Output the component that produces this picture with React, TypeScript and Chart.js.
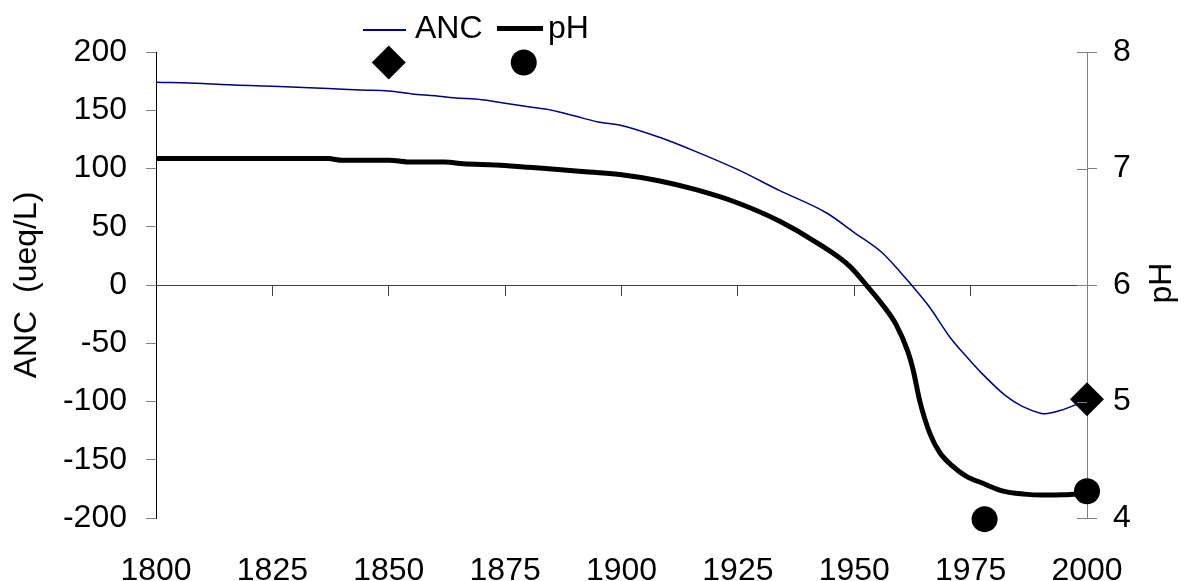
import React, { useEffect, useRef } from 'react';
import { Chart, registerables } from 'chart.js';

Chart.register(...registerables);

const ancYears = [1800, 1810, 1814, 1829, 1837, 1844, 1850, 1855, 1860, 1864, 1870, 1875, 1880, 1885, 1890, 1895, 1900, 1908, 1916, 1925, 1934, 1944, 1950, 1956, 1960, 1962.3, 1966, 1970.6, 1974, 1977.2, 1982.5, 1986, 1990, 1991, 1994, 1998, 2000];
const ancValues = [174, 173, 172, 170, 168.7, 167.3, 166.5, 164, 162.4, 160.7, 159, 156, 153, 150, 145, 140, 137, 127, 114.5, 99, 81, 62, 45, 27.7, 10.6, 0, -18, -45, -61, -75, -95, -104, -110, -110.5, -108, -102, -98];

const phYears = [1800, 1837, 1840, 1850, 1855, 1862, 1866, 1873, 1880, 1887, 1893, 1900, 1908, 1916, 1925, 1934, 1942, 1949, 1953, 1955.7, 1959, 1961.5, 1962.6, 1964.1, 1966.3, 1968.4, 1971, 1974, 1977.5, 1982, 1986.5, 1990.5, 1995, 2000];
const phValues = [7.085, 7.085, 7.07, 7.07, 7.055, 7.055, 7.04, 7.03, 7.01, 6.99, 6.97, 6.946, 6.895, 6.818, 6.704, 6.547, 6.362, 6.162, 5.98, 5.85, 5.66, 5.43, 5.28, 5.0, 4.72, 4.56, 4.45, 4.36, 4.3, 4.23, 4.205, 4.197, 4.2, 4.21];

const ancObsYears = [1850, 2000];
const ancObsValues = [191, -98];
const phObsYears = [1879, 1978, 2000];
const phObsValues = [7.91, 3.99, 4.23];

const xTicks = [1800, 1825, 1850, 1875, 1900, 1925, 1950, 1975, 2000];
const ancTicks = [-200, -150, -100, -50, 0, 50, 100, 150, 200];
const phTicks = [4, 5, 6, 7, 8];

const FONT = '"Liberation Sans", Arial, sans-serif';
const TICK_SIZE = 32;

const toPoints = (xs: number[], ys: number[]) => xs.map((x, i) => ({ x, y: ys[i] }));

const extras = {
  id: 'extras',
  afterDraw(chart: any) {
    const { ctx, chartArea } = chart;
    const y2 = chart.scales.y2;
    ctx.save();
    ctx.strokeStyle = '#808080';
    ctx.lineWidth = 1;
    phTicks.forEach((v) => {
      const py = Math.round(y2.getPixelForValue(v)) + 0.5;
      ctx.beginPath();
      ctx.moveTo(chartArea.right - 10, py);
      ctx.lineTo(chartArea.right, py);
      ctx.stroke();
    });
    ctx.fillStyle = '#000';
    ctx.font = `32px ${FONT}`;
    ctx.textAlign = 'center';
    ctx.textBaseline = 'middle';
    ctx.translate(1162, 283);
    ctx.rotate(-Math.PI / 2);
    ctx.fillText('pH', 0, 0);
    ctx.restore();
  },
};

export default function App() {
  const ref = useRef<HTMLCanvasElement | null>(null);

  useEffect(() => {
    if (!ref.current) return;
    const chart = new Chart(ref.current, {
      type: 'line',
      data: {
        datasets: [
          {
            label: 'ANC observed',
            data: toPoints(ancObsYears, ancObsValues),
            yAxisID: 'y',
            showLine: false,
            pointStyle: 'rectRot',
            pointRadius: 17,
            pointBackgroundColor: '#000',
            pointBorderColor: '#000',
            pointBorderWidth: 0,
            clip: false,
          } as any,
          {
            label: 'pH observed',
            data: toPoints(phObsYears, phObsValues),
            yAxisID: 'y2',
            showLine: false,
            pointStyle: 'circle',
            pointRadius: 13,
            pointBackgroundColor: '#000',
            pointBorderColor: '#000',
            pointBorderWidth: 0,
            clip: false,
          } as any,
          {
            label: 'ANC',
            data: toPoints(ancYears, ancValues),
            yAxisID: 'y',
            borderColor: '#000080',
            borderWidth: 1.5,
            pointRadius: 0,
            cubicInterpolationMode: 'monotone',
            fill: false,
          },
          {
            label: 'pH',
            data: toPoints(phYears, phValues),
            yAxisID: 'y2',
            borderColor: '#000',
            borderWidth: 5,
            pointRadius: 0,
            cubicInterpolationMode: 'monotone',
            fill: false,
          },
        ],
      },
      options: {
        animation: false,
        responsive: false,
        devicePixelRatio: 1,
        layout: { padding: { top: 52, left: 0, right: 0, bottom: 0 } },
        plugins: { legend: { display: false }, tooltip: { enabled: false } },
        scales: {
          x: {
            type: 'linear',
            position: 'bottom',
            min: 1800,
            max: 2000,
            afterBuildTicks: (s: any) => { s.ticks = xTicks.map((v) => ({ value: v })); },
            afterFit: (s: any) => { s.height = 63; },
            grid: { display: false },
            border: { display: false },
            ticks: {
              color: '#000',
              font: { family: FONT, size: TICK_SIZE },
              padding: 26,
              maxRotation: 0,
              autoSkip: false,
              callback: (v: any) => String(v),
            },
          },
          xz: {
            type: 'linear',
            position: { y: 0 } as any,
            min: 1800,
            max: 2000,
            afterBuildTicks: (s: any) => { s.ticks = xTicks.map((v) => ({ value: v })); },
            grid: { drawOnChartArea: false, drawTicks: true, tickLength: 10, tickColor: '#404040' },
            border: { display: true, color: '#404040', width: 1 },
            ticks: { display: false },
          },
          y: {
            type: 'linear',
            position: 'left',
            min: -200,
            max: 200,
            afterBuildTicks: (s: any) => { s.ticks = ancTicks.map((v) => ({ value: v })); },
            afterFit: (s: any) => { s.width = 156; },
            grid: { drawOnChartArea: false, tickLength: 10, tickColor: '#808080' },
            border: { color: '#000', width: 1 },
            ticks: {
              color: '#000',
              font: { family: FONT, size: TICK_SIZE },
              padding: 19,
              callback: (v: any) => String(v),
            },
            title: {
              display: true,
              text: 'ANC  (ueq/L)',
              color: '#000',
              font: { family: FONT, size: 32 },
              padding: { top: 8, bottom: 0 },
            },
          },
          y2: {
            type: 'linear',
            position: 'right',
            min: 4,
            max: 8,
            afterBuildTicks: (s: any) => { s.ticks = phTicks.map((v) => ({ value: v })); },
            afterFit: (s: any) => { s.width = 98; },
            grid: { drawOnChartArea: false, tickLength: 10, tickColor: '#808080' },
            border: { color: '#808080', width: 1 },
            ticks: {
              color: '#000',
              font: { family: FONT, size: TICK_SIZE },
              padding: 16,
              callback: (v: any) => String(v),
            },
          },
        },
      } as any,
      plugins: [extras],
    });
    return () => chart.destroy();
  }, []);

  const legendText: React.CSSProperties = {
    position: 'absolute',
    fontFamily: FONT,
    fontSize: 32,
    lineHeight: '32px',
    color: '#000',
    whiteSpace: 'nowrap',
  };

  return (
    <div style={{ position: 'absolute', left: 0, top: 0, width: 1185, height: 581, background: '#fff' }}>
      <canvas ref={ref} width={1185} height={581} style={{ position: 'absolute', left: 0, top: 0 }} />
      <div style={{ position: 'absolute', left: 363, top: 29, width: 43, height: 2, background: '#000080' }} />
      <span style={{ ...legendText, left: 415, top: 11 }}>ANC</span>
      <div style={{ position: 'absolute', left: 497, top: 26, width: 46, height: 5, background: '#000' }} />
      <span style={{ ...legendText, left: 548, top: 11 }}>pH</span>
    </div>
  );
}
